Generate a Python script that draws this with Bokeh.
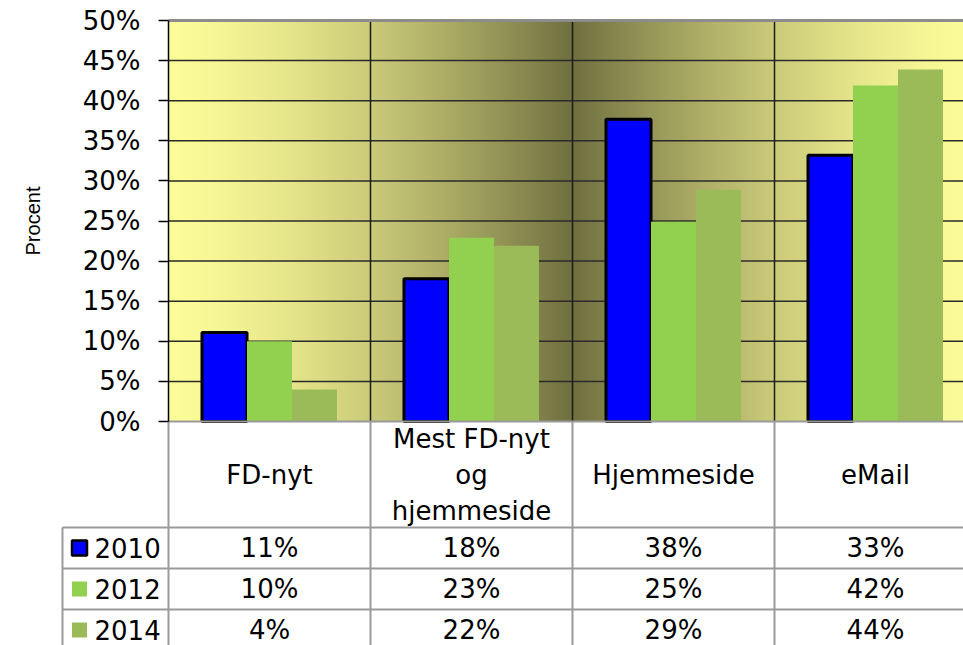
import numpy as np
from bokeh.plotting import figure
from bokeh.models import LinearAxis, FixedTicker, NumeralTickFormatter, Range1d
from bokeh.core.properties import value
from bokeh.embed import file_html
from bokeh.resources import INLINE

# ---------------- data ----------------
categories = ["FD-nyt", "Mest FD-nyt\nog\nhjemmeside", "Hjemmeside", "eMail"]
years = ["2010", "2012", "2014"]
v2010 = [0.111, 0.178, 0.377, 0.332]
v2012 = [0.100, 0.229, 0.249, 0.419]
v2014 = [0.040, 0.219, 0.289, 0.439]
series = [v2010, v2012, v2014]
y_ticks = [0.0, 0.05, 0.10, 0.15, 0.20, 0.25, 0.30, 0.35, 0.40, 0.45, 0.50]

# ---------------- styles ----------------
colors = ["#0000FF", "#92D050", "#9BBB59"]
line_cols = ["black", None, None]
FONT = "DejaVu Sans"
FS = "26px"
GRAY = "#9a9a9a"

# ---------------- layout geometry (page pixels) ----------------
W, H = 963, 645
page_x0, page_y0 = 0, 0
frame_left_px = 168          # where category 0 begins
cat_px = 202                 # width of one category
zero_px, top_px = 421, 20    # y of 0% and 50%
ymax = 0.5
per_unit = (zero_px - top_px) / ymax

def dx(px):
    return (px - frame_left_px) / cat_px

def dy(py):
    return (zero_px - py) / per_unit

x_start = dx(page_x0)
x_end = dx(page_x0 + W)
y_end = dy(page_y0)
y_start = dy(page_y0 + H)

p = figure(width=W, height=H, output_backend="svg", toolbar_location=None,
           x_axis_type=None, y_axis_type=None,
           x_range=Range1d(x_start, x_end), y_range=Range1d(y_start, y_end),
           min_border_left=0, min_border_right=0, min_border_top=0, min_border_bottom=0)
p.outline_line_color = None
p.background_fill_color = "white"
p.border_fill_color = "white"

ncat = len(categories)

# ---- background gradient (reflected, dark in the middle) ----
N = 404
xs = (np.arange(N) + 0.5) / N * ncat
t = 1 - np.abs(xs - ncat / 2) / (ncat / 2)
t = t ** 1.5
light = np.array([252, 252, 153], dtype=float)
dark = np.array([112, 112, 64], dtype=float)
rgb = light[None, :] + (dark - light)[None, :] * t[:, None]
img = np.empty((1, N), dtype=np.uint32)
view = img.view(dtype=np.uint8).reshape((1, N, 4))
view[0, :, 0] = rgb[:, 0].astype(np.uint8)
view[0, :, 1] = rgb[:, 1].astype(np.uint8)
view[0, :, 2] = rgb[:, 2].astype(np.uint8)
view[0, :, 3] = 255
p.image_rgba(image=[img], x=0, y=0, dw=ncat, dh=ymax)

# ---- horizontal gridlines ----
inner = [tk for tk in y_ticks if 0 < tk < ymax]
p.segment(x0=[0] * len(inner), x1=[x_end] * len(inner), y0=inner, y1=inner,
          line_color="#2a2a2a", line_width=1.5)
# ---- category separators in plot ----
seps = list(range(1, ncat))
p.segment(x0=seps, x1=seps, y0=[0] * len(seps), y1=[ymax] * len(seps),
          line_color="#1a1a1a", line_width=1.5)

# ---- bars ----
bw = 45 / cat_px
for k, vals in enumerate(series):
    xc = [i + 0.5 + (k - 1) * bw for i in range(ncat)]
    p.vbar(x=xc, top=vals, bottom=0, width=bw, fill_color=colors[k],
           line_color=line_cols[k], line_width=3 if line_cols[k] else 0)

# ---- borders of plot area ----
p.segment(x0=[0], x1=[x_end], y0=[ymax], y1=[ymax], line_color="#8c8c8c", line_width=3)
p.segment(x0=[0], x1=[x_end], y0=[0], y1=[0], line_color=GRAY, line_width=2)

# ---- data table ----
header_bottom = 527
row_h = 41
rows_top = [header_bottom + r * row_h for r in range(len(years))]
x_leg = dx(62)
# vertical lines
vx = list(range(0, ncat))
p.segment(x0=vx, x1=vx, y0=[0] * len(vx), y1=[y_start] * len(vx), line_color=GRAY, line_width=2)
p.segment(x0=[x_leg], x1=[x_leg], y0=[dy(header_bottom)], y1=[y_start], line_color=GRAY, line_width=2)
# horizontal lines
hy = [dy(r) for r in rows_top]
p.segment(x0=[x_leg] * len(hy), x1=[x_end] * len(hy), y0=hy, y1=hy, line_color=GRAY, line_width=2)

# header texts
p.text(x=[i + 0.5 for i in range(ncat)], y=[dy((zero_px + header_bottom) / 2)] * ncat,
       text=categories, text_font=value(FONT), text_font_size=value(FS),
       text_align="center", text_baseline="middle", text_color="black", text_line_height=1.2)

# rows
for r, (yr, vals) in enumerate(zip(years, series)):
    yc = dy(rows_top[r] + row_h / 2)
    p.text(x=[i + 0.5 for i in range(ncat)], y=[yc] * ncat,
           text=[f"{round(v * 100):d}%" for v in vals], text_font=value(FONT),
           text_font_size=value(FS), text_align="center", text_baseline="middle",
           text_color="black")
    p.scatter(x=[dx(79)], y=[yc], marker="square", size=15, fill_color=colors[r],
              line_color=line_cols[r] if line_cols[r] else colors[r],
              line_width=2.5 if line_cols[r] else 0)
    p.text(x=[dx(94)], y=[yc], text=[yr], text_font=value(FONT), text_font_size=value(FS),
           text_align="left", text_baseline="middle", text_color="black")

# ---- y axis ----
yaxis = LinearAxis(fixed_location=0, bounds=(0, ymax), ticker=FixedTicker(ticks=y_ticks),
                   formatter=NumeralTickFormatter(format="0%"))
yaxis.axis_line_color = "black"
yaxis.axis_line_width = 1.5
yaxis.major_tick_line_color = "black"
yaxis.major_tick_line_width = 1.5
yaxis.major_tick_out = 10
yaxis.major_tick_in = 0
yaxis.minor_tick_line_color = None
yaxis.major_label_standoff = 18
yaxis.major_label_text_font = FONT
yaxis.major_label_text_font_size = FS
yaxis.major_label_text_color = "black"
yaxis.axis_label = "Procent"
yaxis.axis_label_text_font = "Liberation Sans"
yaxis.axis_label_text_font_size = "20px"
yaxis.axis_label_text_font_style = "normal"
yaxis.axis_label_text_color = "black"
yaxis.axis_label_standoff = 36
p.add_layout(yaxis, "left")

open("out.html", "w").write(file_html(p, INLINE))
